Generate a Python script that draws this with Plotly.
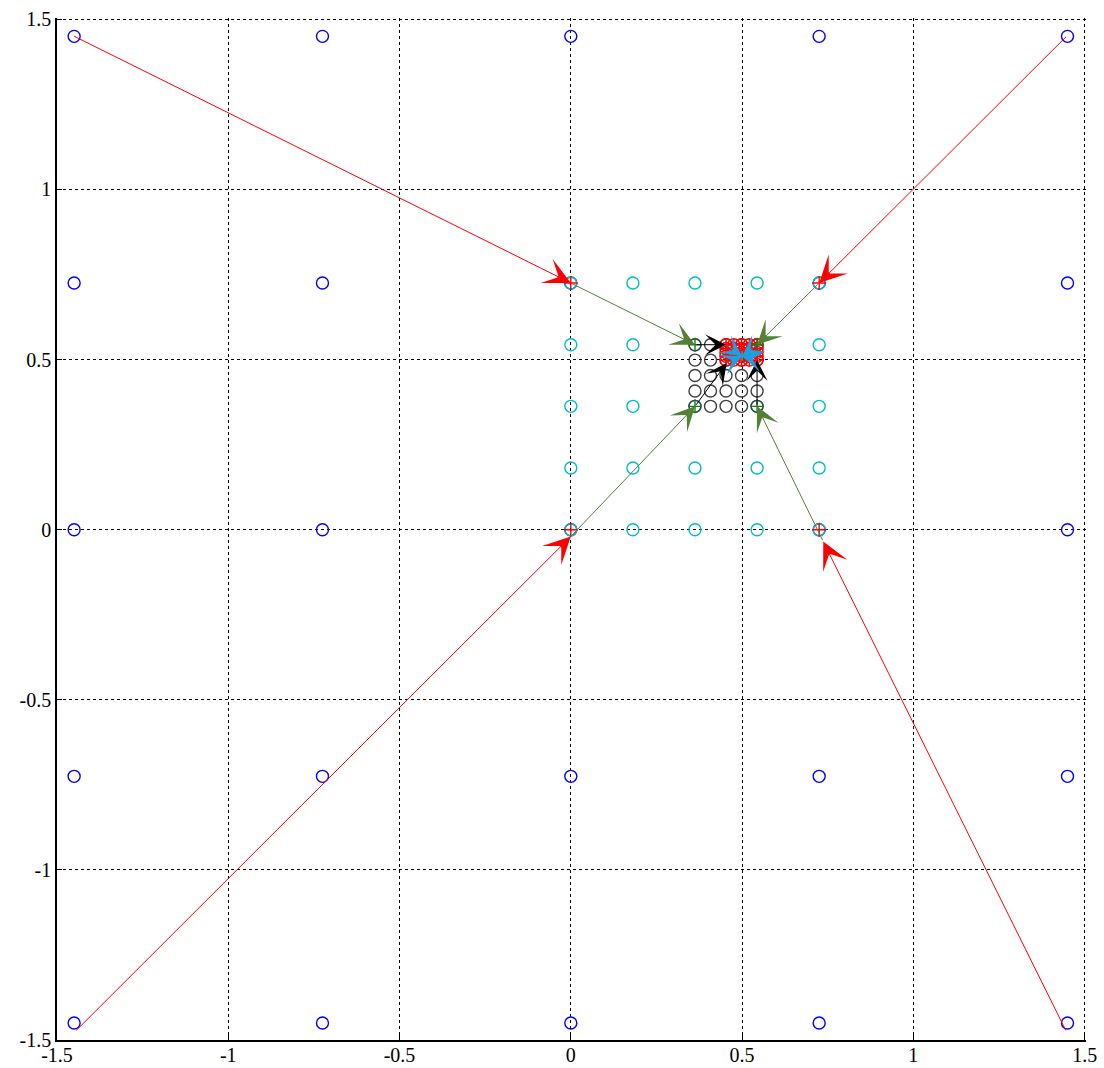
import plotly.graph_objects as go

# ---- data ----
blue_vals = [-1.45, -0.725, 0.0, 0.725, 1.45]
cyan_vals = [0.0, 0.18125, 0.3625, 0.54375, 0.725]
black_vals = [0.3625, 0.40781, 0.45313, 0.49844, 0.54375]
red_x = [0.45313, 0.47578, 0.49844, 0.52109, 0.54375]
red_y = [0.49844, 0.50977, 0.52109, 0.53242, 0.54375]

red_plus_x = [0.0, 0.725, 0.0, 0.725]
red_plus_y = [0.725, 0.725, 0.0, 0.0]
green_plus_x = [0.3625, 0.54375, 0.3625, 0.54375]
green_plus_y = [0.54375, 0.54375, 0.3625, 0.3625]
center_x = [0.5]
center_y = [0.51]

# arrow paths (start points and end points for each stage)
red_from_x = [-1.455, 1.45, -1.448, 1.447]
red_from_y = [1.453, 1.453, -1.476, -1.476]
red_to_x = [0.0, 0.725, 0.0, 0.737]
red_to_y = [0.725, 0.725, -0.02, -0.035]
green_to_x = [0.3625, 0.54375, 0.3625, 0.54375]
green_to_y = [0.54375, 0.54375, 0.3625, 0.3625]
black_to_x = [0.45313, 0.54375, 0.455, 0.54375]
black_to_y = [0.54375, 0.54375, 0.49, 0.49844]
cyan_to_x = [0.5, 0.5, 0.5, 0.5]
cyan_to_y = [0.51, 0.51, 0.51, 0.51]

tick_vals = [-1.5, -1, -0.5, 0, 0.5, 1, 1.5]
tick_text = ["-1.5", "-1", "-0.5", "0", "0.5", "1", "1.5"]
axis_range = [-1.5, 1.504]

def grid(xs, ys):
    gx, gy = [], []
    for yv in ys:
        for xv in xs:
            gx.append(xv)
            gy.append(yv)
    return gx, gy

fig = go.Figure()

def circles(xs, ys, color, size=12):
    gx, gy = grid(xs, ys)
    fig.add_trace(go.Scatter(x=gx, y=gy, mode="markers",
                             marker=dict(symbol="circle-open", size=size, color=color,
                                         line=dict(width=1.4, color=color)),
                             hoverinfo="skip", showlegend=False))

def pluses(xs, ys, color, size=10):
    fig.add_trace(go.Scatter(x=xs, y=ys, mode="markers",
                             marker=dict(symbol="cross-thin-open", size=size, color=color,
                                         line=dict(width=1.4, color=color)),
                             hoverinfo="skip", showlegend=False))

circles(blue_vals, blue_vals, "#0000ff")
circles(cyan_vals, cyan_vals, "#00bfbf")
circles(black_vals, black_vals, "#404040")
circles(red_x, red_y, "#ff0000")
rx, ry = grid(red_x, red_y)
pluses(rx, ry, "#ff0000", 9)
pluses(red_plus_x, red_plus_y, "#ff0000")
pluses(green_plus_x, green_plus_y, "#1a7a1a")

annotations = []
def arrows(fx, fy, tx, ty, color, size):
    for a, b, c, d in zip(fx, fy, tx, ty):
        annotations.append(dict(x=c, y=d, ax=a, ay=b, xref="x", yref="y",
                                axref="x", ayref="y", text="", showarrow=True,
                                arrowhead=3, arrowsize=size, arrowwidth=1,
                                arrowcolor=color, standoff=0, startstandoff=0))

arrows(red_from_x, red_from_y, red_to_x, red_to_y, "#ff0000", 4.5)
arrows(red_to_x, red_to_y, green_to_x, green_to_y, "#548235", 4.0)
arrows(green_to_x, green_to_y, black_to_x, black_to_y, "#000000", 3.5)
arrows(black_to_x, black_to_y, cyan_to_x, cyan_to_y, "#1ba1e2", 3.5)

pluses(center_x, center_y, "#00bfbf", 7)

axis_common = dict(range=axis_range, tickvals=tick_vals, ticktext=tick_text,
                   showgrid=True, gridcolor="black", griddash="dot", gridwidth=1,
                   zeroline=False, showline=True, linecolor="black", linewidth=1.5,
                   ticks="inside", ticklen=5, tickcolor="black", tickwidth=1,
                   tickfont=dict(family="Liberation Serif, Times New Roman, serif",
                                 size=20, color="black"),
                   ticklabeloverflow="allow",
                   mirror=False, automargin=False)

fig.update_layout(
    width=1104, height=1068,
    margin=dict(l=57, r=18, t=18, b=28),
    plot_bgcolor="white", paper_bgcolor="white",
    xaxis=dict(**axis_common, ticklabelstandoff=-4),
    yaxis=dict(**axis_common),
    annotations=annotations,
    showlegend=False,
)

fig.write_html("out.html", config={"displayModeBar": False},
               post_script="document.body.style.margin='0';document.body.style.overflow='hidden';")
